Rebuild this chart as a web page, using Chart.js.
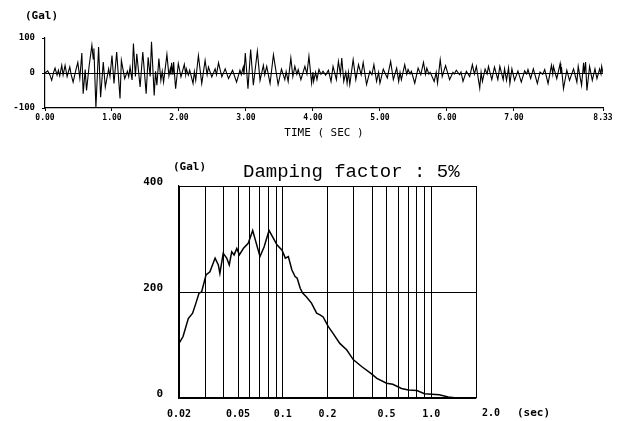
<!DOCTYPE html>
<html>
<head>
<meta charset="utf-8">
<script src="https://cdn.jsdelivr.net/npm/chart.js@4.4.1/dist/chart.umd.min.js"></script>
<style>
  html, body { margin: 0; padding: 0; background: #fff; }
  body { width: 627px; height: 421px; position: relative; overflow: hidden; }
  canvas { position: absolute; left: 0; }
  #grafico-tempo { top: 0; }
  #grafico-espectro { top: 145px; }
</style>
</head>
<body>
<canvas id="grafico-tempo" width="627" height="145"></canvas>
<canvas id="grafico-espectro" width="627" height="276"></canvas>
<script>
// registro de aceleracao (Gal) x tempo (s)
const tempo = [
	0.00, 0.04, 0.07, 0.10, 0.13, 0.15, 0.18, 0.20, 0.22, 0.25, 0.27, 0.30, 0.33, 0.37, 0.39, 0.42,
	0.46, 0.49, 0.52, 0.55, 0.57, 0.60, 0.62, 0.66, 0.70, 0.72, 0.73, 0.76, 0.80, 0.83, 0.87, 0.90,
	0.95, 0.97, 1.00, 1.03, 1.07, 1.12, 1.14, 1.19, 1.23, 1.25, 1.27, 1.30, 1.32, 1.35, 1.37, 1.42,
	1.46, 1.51, 1.54, 1.57, 1.59, 1.63, 1.65, 1.67, 1.70, 1.73, 1.75, 1.77, 1.82, 1.85, 1.87, 1.88,
	1.89, 1.91, 1.92, 1.95, 1.99, 2.03, 2.08, 2.10, 2.11, 2.14, 2.16, 2.21, 2.23, 2.25, 2.29, 2.34,
	2.39, 2.42, 2.44, 2.49, 2.54, 2.56, 2.59, 2.64, 2.69, 2.74, 2.80, 2.86, 2.91, 2.93, 2.96, 2.97,
	2.99, 3.03, 3.07, 3.11, 3.17, 3.21, 3.26, 3.28, 3.31, 3.36, 3.41, 3.48, 3.53, 3.58, 3.60, 3.63,
	3.67, 3.70, 3.73, 3.76, 3.78, 3.82, 3.88, 3.91, 3.94, 3.98, 4.00, 4.01, 4.04, 4.06, 4.09, 4.12,
	4.15, 4.19, 4.23, 4.27, 4.30, 4.35, 4.38, 4.41, 4.43, 4.46, 4.49, 4.51, 4.53, 4.55, 4.60, 4.64,
	4.68, 4.72, 4.75, 4.80, 4.85, 4.88, 4.91, 4.95, 4.98, 5.00, 5.05, 5.11, 5.16, 5.20, 5.25, 5.28,
	5.30, 5.32, 5.37, 5.40, 5.42, 5.45, 5.47, 5.52, 5.57, 5.61, 5.65, 5.68, 5.70, 5.73, 5.75, 5.81,
	5.84, 5.86, 5.90, 5.93, 5.98, 6.04, 6.09, 6.11, 6.14, 6.19, 6.21, 6.24, 6.29, 6.34, 6.38, 6.41,
	6.44, 6.49, 6.51, 6.53, 6.57, 6.60, 6.62, 6.67, 6.71, 6.76, 6.79, 6.84, 6.86, 6.89, 6.92, 6.94,
	6.97, 7.01, 7.06, 7.11, 7.16, 7.19, 7.21, 7.25, 7.29, 7.35, 7.39, 7.43, 7.46, 7.51, 7.56, 7.58,
	7.59, 7.64, 7.69, 7.70, 7.71, 7.74, 7.79, 7.83, 7.89, 7.94, 7.96, 8.01, 8.04, 8.05, 8.07, 8.09,
	8.13, 8.17, 8.21, 8.24, 8.28, 8.30, 8.31, 8.33
];
const aceleracao = [
	0, 6, -4, -21, 3, 14, -6, 8, -8, 22, -6, 22, -10, 17, -4, -26,
	8, 30, -15, 57, -59, 10, -50, 22, 79, 40, 70, -99, 74, -69, 31, -40,
	12, -10, 50, -30, 60, -73, 36, -16, 5, -11, 17, -20, 84, -10, 55, -40,
	60, -59, 45, -10, 89, -64, 5, -35, 41, -21, 5, -26, 53, -8, 12, -5,
	29, -5, 31, -45, 27, -11, 25, -5, 12, -6, 8, -30, 4, -21, 50, -30,
	36, -5, 17, -11, 12, -5, 29, -11, 12, -16, 8, -26, 8, -5, 17, -5,
	57, -45, 67, -35, 62, -21, 22, -5, 19, -30, 52, -33, 11, -19, 4, -24,
	43, -10, 19, -4, 10, -19, 19, -3, 48, -29, 3, -24, 2, -19, 10, -4,
	5, -6, 8, -24, 19, -19, 33, -4, 43, -24, 2, -29, 2, -33, 38, -19,
	24, -5, 30, -33, 5, -5, 24, -24, 2, -29, 11, -14, 33, -19, 14, -24,
	2, -19, 24, -4, 10, -3, 5, -29, 14, -5, 30, -4, 14, -3, 2, -24,
	2, -29, 38, -10, 21, -19, 2, -3, 8, -5, 3, -24, 5, -10, 24, -3,
	19, -43, 2, -24, 11, -3, 19, -19, 17, -19, 19, -19, 12, -21, 15, -30,
	12, -21, 6, -26, 6, -3, 10, -16, 12, -30, 3, -4, 10, -30, 22, -3,
	19, -16, 27, -3, 17, -45, 8, -21, 12, -26, 19, -35, 29, -3, 31, -50,
	19, -21, 12, -16, 12, -3, 19, 0
];
const ticksTempo = [0, 1, 2, 3, 4, 5, 6, 7, 8.33];
const ticksAceleracao = [-100, 0, 100];

// espectro de resposta, amortecimento 5%
const periodos = [
	0.020, 0.0213, 0.0231, 0.0247, 0.026, 0.0273, 0.0284, 0.0304, 0.0323, 0.035, 0.0368, 0.0377,
	0.0397, 0.0419, 0.0436, 0.0453, 0.047, 0.049, 0.051, 0.0542, 0.0585, 0.0627, 0.0658, 0.0702,
	0.0748, 0.0808, 0.0865, 0.0913, 0.0988, 0.104, 0.109, 0.115, 0.121, 0.125, 0.131, 0.136,
	0.144, 0.156, 0.169, 0.178, 0.187, 0.202, 0.218, 0.242, 0.269, 0.299, 0.341, 0.39,
	0.43, 0.50, 0.55, 0.63, 0.70, 0.80, 0.90, 1.13, 1.30, 1.48
];
const espectro = [
	103, 116, 150, 160, 179, 198, 200, 232, 238, 264, 251, 235,
	273, 264, 251, 276, 270, 282, 270, 282, 292, 316, 295, 267,
	285, 316, 301, 289, 279, 264, 267, 242, 229, 226, 207, 198,
	191, 179, 160, 157, 153, 135, 122, 103, 91, 72, 59, 47,
	37, 28, 26, 18, 15, 14, 8, 6, 2, 0
];
const gradePeriodos = [0.02, 0.03, 0.04, 0.05, 0.06, 0.07, 0.08, 0.09, 0.1,
	0.2, 0.3, 0.4, 0.5, 0.6, 0.7, 0.8, 0.9, 1.0, 2.0];
const rotulosPeriodos = { 0.02: '0.02', 0.05: '0.05', 0.1: '0.1', 0.2: '0.2', 0.5: '0.5', 1: '1.0' };
const ticksEspectro = [0, 200, 400];

Chart.defaults.font.family = "'DejaVu Sans Mono', monospace";
Chart.defaults.color = '#000';

// escreve textos soltos (unidades, titulo) no canvas
const textosExtras = {
	id: 'textosExtras',
	afterDraw(chart, args, opts) {
		const ctx = chart.ctx;
		ctx.save();
		ctx.fillStyle = '#000';
		(opts.itens || []).forEach(t => {
			let x = t.x;
			if (t.valorX !== undefined) x = chart.scales.x.getPixelForValue(t.valorX) + t.dx;
			ctx.font = t.font;
			ctx.textAlign = t.align || 'left';
			ctx.textBaseline = t.baseline || 'middle';
			ctx.fillText(t.texto, x, t.y);
		});
		ctx.restore();
	}
};

const ctxTempo = document.getElementById('grafico-tempo').getContext('2d');
new Chart(ctxTempo, {
	type: 'line',
	data: {
		datasets: [{
			data: tempo.map((t, i) => ({ x: t, y: aceleracao[i] })),
			borderColor: '#000',
			borderWidth: 1.1,
			pointRadius: 0,
			tension: 0,
			fill: false
		}]
	},
	options: {
		responsive: false,
		animation: false,
		events: [],
		layout: { padding: { left: 0, right: 24, top: 38, bottom: 0 } },
		scales: {
			x: {
				type: 'linear',
				min: 0,
				max: 8.33,
				afterBuildTicks: s => { s.ticks = ticksTempo.map(v => ({ value: v })); },
				afterFit: s => { s.height = 37; },
				ticks: {
					autoSkip: false,
					maxRotation: 0,
					padding: 2,
					font: { size: 8, weight: 'bold' },
					callback: v => Number(v).toFixed(2)
				},
				grid: { drawOnChartArea: false, drawTicks: true, tickLength: 3, color: '#000' },
				border: { display: true, color: '#000', width: 1.2 },
				title: {
					display: true,
					text: 'TIME ( SEC )',
					font: { size: 11 },
					padding: { top: 0, bottom: 5 }
				}
			},
			y: {
				min: -100,
				max: 100,
				afterBuildTicks: s => { s.ticks = ticksAceleracao.map(v => ({ value: v })); },
				afterFit: s => { s.width = 45; },
				ticks: { padding: 7, font: { size: 9, weight: 'bold' } },
				grid: {
					color: c => (c.tick && c.tick.value === 0) ? '#000' : 'rgba(0,0,0,0)',
					tickColor: '#000',
					tickLength: 3
				},
				border: { display: true, color: '#000', width: 1.2 }
			}
		},
		plugins: {
			legend: { display: false },
			tooltip: { enabled: false },
			textosExtras: {
				itens: [
					{ texto: '(Gal)', x: 25, y: 16, font: 'bold 11px "DejaVu Sans Mono"' }
				]
			}
		}
	},
	plugins: [textosExtras]
});

const ctxEspectro = document.getElementById('grafico-espectro').getContext('2d');
new Chart(ctxEspectro, {
	type: 'line',
	data: {
		datasets: [{
			data: periodos.map((p, i) => ({ x: p, y: espectro[i] })),
			borderColor: '#000',
			borderWidth: 1.5,
			pointRadius: 0,
			tension: 0,
			fill: false
		}]
	},
	options: {
		responsive: false,
		animation: false,
		events: [],
		layout: { padding: { left: 0, right: 151, top: 41, bottom: 0 } },
		scales: {
			x: {
				type: 'logarithmic',
				min: 0.02,
				max: 2.0,
				afterBuildTicks: s => { s.ticks = gradePeriodos.map(v => ({ value: v })); },
				afterFit: s => { s.height = 23; },
				ticks: {
					autoSkip: false,
					maxRotation: 0,
					padding: 10,
					font: { size: 10, weight: 'bold' },
					callback: v => rotulosPeriodos[Number(v)] || ''
				},
				grid: { drawTicks: false, color: '#000', lineWidth: 1 },
				border: { display: true, color: '#000', width: 1.2 }
			},
			y: {
				min: 0,
				max: 400,
				afterBuildTicks: s => { s.ticks = ticksEspectro.map(v => ({ value: v })); },
				afterFit: s => { s.width = 179; },
				ticks: { padding: 16, labelOffset: -4, font: { size: 11, weight: 'bold' } },
				grid: { drawTicks: false, color: '#000', lineWidth: 1 },
				border: { display: true, color: '#000', width: 1.2 }
			}
		},
		plugins: {
			legend: { display: false },
			tooltip: { enabled: false },
			textosExtras: {
				itens: [
					{ texto: '(Gal)', x: 173, y: 22, font: 'bold 11px "DejaVu Sans Mono"' },
					{ texto: 'Damping factor : 5%', x: 243, y: 32, baseline: 'alphabetic', font: '19px "Liberation Mono"' },
					{ texto: '2.0', valorX: 2.0, dx: 15, y: 268, align: 'center', font: 'bold 10px "DejaVu Sans Mono"' },
					{ texto: '(sec)', x: 517, y: 268, font: 'bold 11px "DejaVu Sans Mono"' }
				]
			}
		}
	},
	plugins: [textosExtras]
});
</script>
</body>
</html>
